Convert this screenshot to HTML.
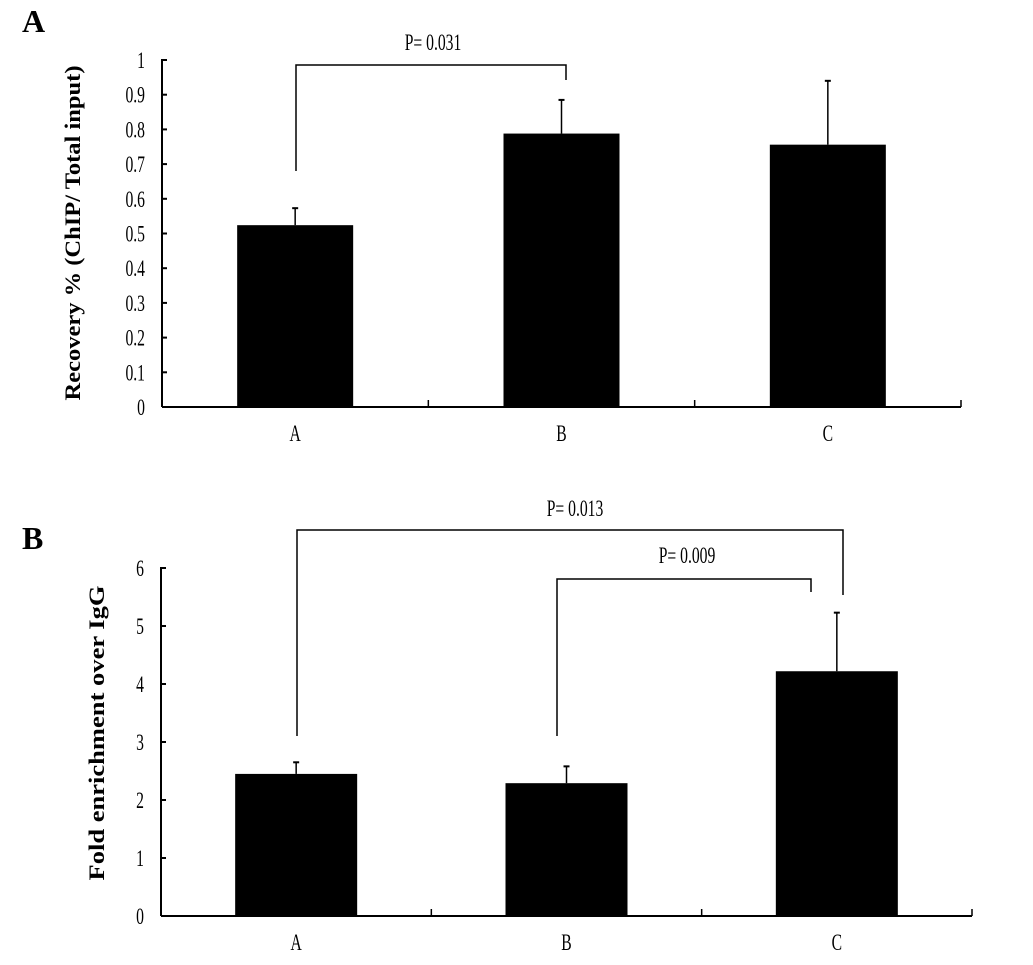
<!DOCTYPE html>
<html><head><meta charset="utf-8"><style>
html,body{margin:0;padding:0;background:#fff;width:1033px;height:965px;overflow:hidden}
svg{display:block}
text{font-family:"Liberation Serif",serif;fill:#000}
</style></head><body>
<svg id="chart" width="1033" height="965" viewBox="0 0 1033 965"></svg>
<script>
const categories = ["A","B","C"];
const recoveryValues = [0.524, 0.788, 0.756];
const recoveryErrors = [0.049, 0.097, 0.184];
const recoveryTicks = ["0","0.1","0.2","0.3","0.4","0.5","0.6","0.7","0.8","0.9","1"];
const foldValues = [2.45, 2.29, 4.22];
const foldErrors = [0.2, 0.29, 1.01];
const foldTicks = ["0","1","2","3","4","5","6"];

const NS="http://www.w3.org/2000/svg";
const svg=document.getElementById('chart');
function mk(tag,attrs,parent,txt){const e=document.createElementNS(NS,tag);for(const k in attrs)e.setAttribute(k,attrs[k]);if(txt!=null)e.textContent=txt;(parent||svg).appendChild(e);return e;}
function ctext(parent,x,y,anchor,txt){
  return mk('text',{x:0,y:0,'text-anchor':anchor,'font-size':23,transform:`translate(${x},${y}) scale(0.68,1)`},parent,txt);
}

function panel(cfg){
  const g=mk('g',{});
  
  
  const y=v=>cfg.y0-(v-cfg.min)/(cfg.max-cfg.min)*(cfg.y0-cfg.y1);
  const n=categories.length, slot=(cfg.xEnd-cfg.x0)/n;
  const cx=i=>cfg.x0+slot*(i+0.5);
  const ya=mk('line',{x1:cfg.x0,y1:cfg.y1-1,x2:cfg.x0,y2:cfg.y0,stroke:'#000','stroke-width':2},g);
  
  const xa=mk('line',{x1:cfg.x0,y1:cfg.y0,x2:cfg.xEnd,y2:cfg.y0,stroke:'#000','stroke-width':2},g);
  
  cfg.ticks.forEach((t,i)=>{
    const v=cfg.min+(cfg.max-cfg.min)*i/(cfg.ticks.length-1);
    mk('line',{x1:cfg.x0,y1:y(v),x2:cfg.x0+5,y2:y(v),stroke:'#000','stroke-width':2},g);
    const tx=ctext(g,cfg.x0-17,y(v)+8,'end',t);
    
  });
  for(let i=1;i<=n;i++){const xx=cfg.x0+slot*i;mk('line',{x1:xx,y1:cfg.y0,x2:xx,y2:cfg.y0-7,stroke:'#000','stroke-width':1.5},g);}
  categories.forEach((c,i)=>{
    const bw=cfg.bw, top=y(cfg.vals[i]);
    const r=mk('rect',{x:cx(i)-bw/2,y:top,width:bw,height:cfg.y0-top,fill:'#000'},g);
    
    const et=y(cfg.vals[i]+cfg.errs[i]);
    const e=mk('line',{x1:cx(i),y1:top,x2:cx(i),y2:et,stroke:'#000','stroke-width':1.5},g);
    
    mk('line',{x1:cx(i)-3,y1:et,x2:cx(i)+3,y2:et,stroke:'#000','stroke-width':2},g);
    const lb=ctext(g,cx(i),cfg.y0+34,'middle',c);
    
  });
  const tt=mk('text',{x:0,y:0,'text-anchor':'middle','font-size':cfg.titleSize,'font-weight':'bold',textLength:cfg.titleLen,lengthAdjust:'spacingAndGlyphs',transform:`translate(${cfg.titleX},${cfg.titleY}) rotate(-90)`},g,cfg.title);
  
  const pl=mk('text',{x:22,y:cfg.labelY,'font-size':32,'font-weight':'bold'},g,cfg.label);
  
  cfg.brackets.forEach(b=>{
    const p=mk('polyline',{points:`${b.x1},${b.d1} ${b.x1},${b.y} ${b.x2},${b.y} ${b.x2},${b.d2}`,fill:'none',stroke:'#000','stroke-width':1.5},g);
    
    const t=ctext(g,b.tx,b.ty,'middle',b.text);
    
  });
}
panel({name:'panel-a-chart',x0:162,xEnd:961,y0:407,y1:60,min:0,max:1,bw:116,ticks:recoveryTicks,vals:recoveryValues,errs:recoveryErrors,
  title:'Recovery % (ChIP/ Total input)',titleSize:22,titleLen:335,titleX:80,titleY:233,label:'A',labelY:32,
  brackets:[{x1:296,x2:566,y:65,d1:171,d2:80,text:'P= 0.031',tx:433,ty:50}]});
panel({name:'panel-b-chart',x0:161,xEnd:972,y0:916,y1:568,min:0,max:6,bw:122,ticks:foldTicks,vals:foldValues,errs:foldErrors,
  title:'Fold enrichment over IgG',titleSize:22,titleLen:295,titleX:104,titleY:733,label:'B',labelY:549,
  brackets:[{x1:297,x2:843,y:530,d1:736,d2:595,text:'P= 0.013',tx:575,ty:516},
            {x1:557,x2:811,y:579,d1:736,d2:592,text:'P= 0.009',tx:687,ty:563}]});
</script>
</body></html>
